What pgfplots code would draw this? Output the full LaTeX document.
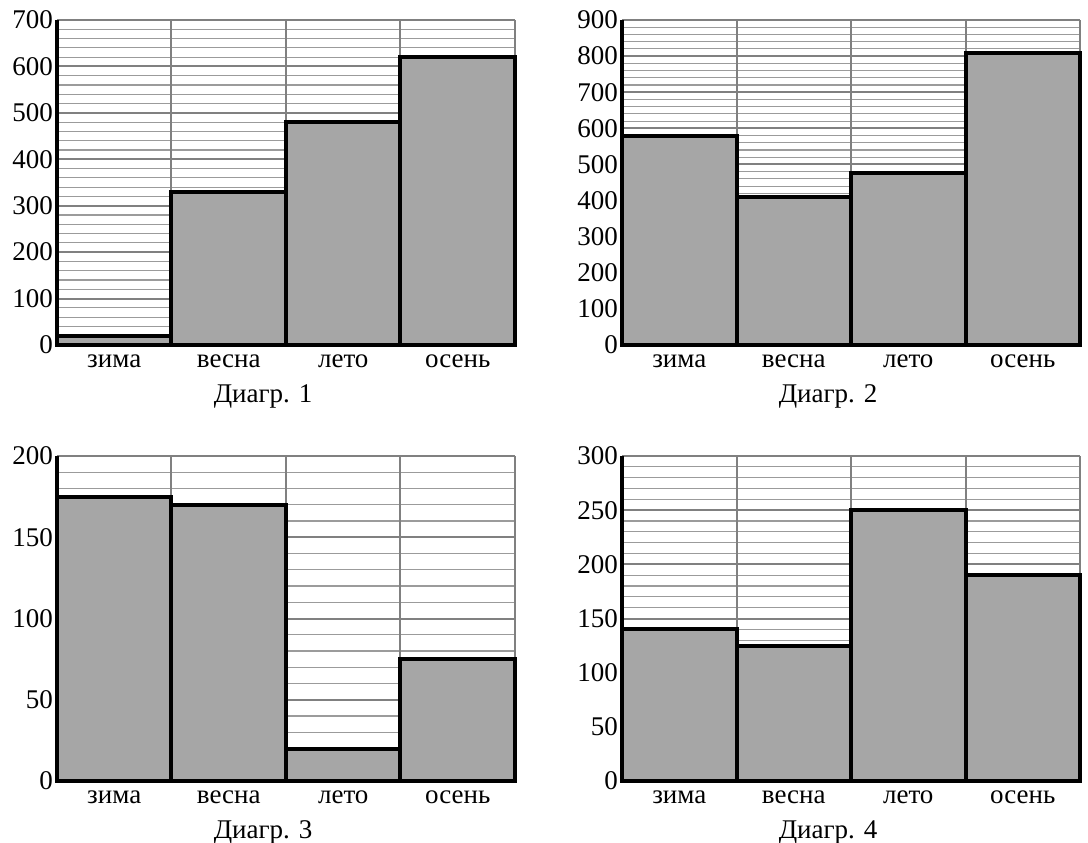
\documentclass[border=0pt]{standalone}
\usepackage{fontspec}
\setmainfont{Liberation Serif}
\usepackage{pgfplots}
\pgfplotsset{compat=1.18}
\definecolor{barfill}{RGB}{166,166,166}
\definecolor{gridmaj}{RGB}{128,128,128}
\definecolor{gridmin}{RGB}{155,155,155}
\newcommand\lbl{\fontsize{27}{32}\selectfont}
\pgfplotsset{
  diag/.style={
    scale only axis, width=458pt, height=325pt,
    anchor=south west, clip=false,
    xmin=0, xmax=4, ymin=0,
    axis lines=left,
    axis line style={-, black, line width=4pt},
    x axis line style={-}, y axis line style={-},
    major tick length=0pt, minor tick length=0pt,
    xtick={0.5,1.5,2.5,3.5},
    xticklabels={зима, весна, лето, осень},
    extra x ticks={1,2,3,4}, extra x tick labels={},
    extra x tick style={grid=major},
    ymajorgrids, yminorgrids, minor y tick num=4,
    major grid style={gridmaj, line width=2pt},
    minor grid style={gridmin, line width=1.1pt},
    /pgf/number format/assume math mode=true,
    yticklabel style={font=\lbl, anchor=east, inner sep=0pt, xshift=-4pt},
    xticklabel style={font=\lbl, anchor=base, inner sep=0pt, yshift=-22pt},
    xlabel style={font=\lbl, at={(rel axis cs:0.45,0)}, anchor=base, inner sep=0pt, yshift=-57pt},
  },
  diagbar/.style={ybar, bar width=1, fill=barfill, draw=black, line width=4pt},
}
\begin{document}
\begin{tikzpicture}
\useasboundingbox (0,0) rectangle (1088pt,-843pt);

% Diagram 1
\begin{axis}[diag, at={(57pt,-345pt)}, ymax=700, ytick distance=100, xlabel={Диагр. 1}]
\addplot[diagbar] coordinates {(0.5,20) (1.5,330) (2.5,480) (3.5,620)};
\end{axis}

% Diagram 2
\begin{axis}[diag, at={(622pt,-345pt)}, ymax=900, ytick distance=100, xlabel={Диагр. 2}]
\addplot[diagbar] coordinates {(0.5,580) (1.5,410) (2.5,475) (3.5,810)};
\end{axis}

% Diagram 3
\begin{axis}[diag, at={(57pt,-781pt)}, ymax=200, ytick distance=50, xlabel={Диагр. 3}]
\addplot[diagbar] coordinates {(0.5,175) (1.5,170) (2.5,20) (3.5,75)};
\end{axis}

% Diagram 4
\begin{axis}[diag, at={(622pt,-781pt)}, ymax=300, ytick distance=50, xlabel={Диагр. 4}]
\addplot[diagbar] coordinates {(0.5,140) (1.5,125) (2.5,250) (3.5,190)};
\end{axis}
\end{tikzpicture}
\end{document}
